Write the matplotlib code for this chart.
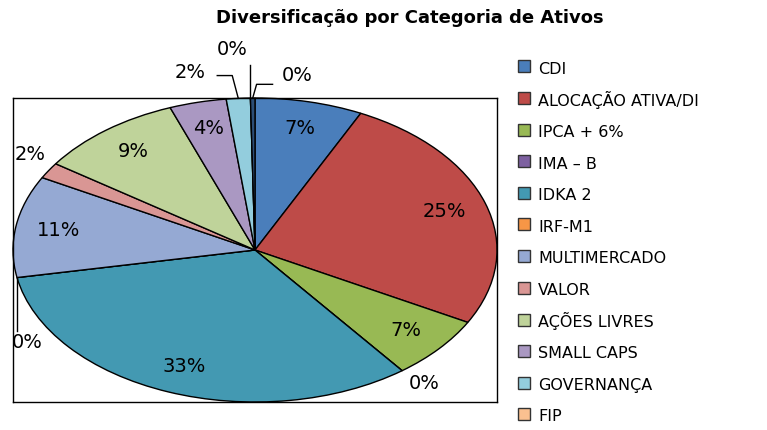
import numpy as np
import matplotlib.pyplot as plt
from matplotlib.lines import Line2D

# dados (percentual da carteira)
categorias = ['CDI', 'ALOCAÇÃO ATIVA/DI', 'IPCA + 6%', 'IMA – B', 'IDKA 2', 'IRF-M1',
              'MULTIMERCADO', 'VALOR', 'AÇÕES LIVRES', 'SMALL CAPS', 'GOVERNANÇA', 'FIP', '']
percentuais = [7.2, 25.7, 6.7, 0.0, 32.5, 0.0, 10.8, 1.7, 9.7, 3.8, 1.6, 0.0, 0.3]
rotulos = ['7%', '25%', '7%', '0%', '33%', '0%', '11%', '2%', '9%', '4%', '2%', '0%', '0%']

cores = ['#4A7EBB', '#BE4B48', '#98B954', '#7D60A0', '#4399B2', '#F79646',
         '#95A9D3', '#D99694', '#BFD39A', '#AA98C2', '#93CDDD', '#FAC090', '#2C4D75']

# posicao dos rotulos: raio para os internos, deslocamentos para os externos
raio_rotulo = 0.82
externos = {
    3: dict(txt=(0.70, -0.88)),
    5: dict(txt=(-0.94, -0.61), linha=[(0.0, 0.0), (0.0, -0.35)]),
    7: dict(txt=(-0.93, 0.63)),
    10: dict(txt=(-0.27, 1.17), linha=[(0.0, 0.0), (-0.025, 0.15), (-0.087, 0.15)]),
    11: dict(txt=(-0.095, 1.32), linha=[(0.0, 0.0), (0.0, 0.22)]),
    12: dict(txt=(0.175, 1.15), linha=[(0.0, 0.0), (0.016, 0.09), (0.082, 0.09)]),
}

fig = plt.figure(figsize=(7.67, 4.30), dpi=100)
ax = fig.add_axes([13/767, 28/430, 484/767, 304/430])

wedges, _ = ax.pie(percentuais, colors=cores, startangle=90, counterclock=False,
                   wedgeprops=dict(edgecolor='black', linewidth=1.0))
ax.set_aspect('auto')
ax.set_xlim(-1, 1)
ax.set_ylim(-1, 1)
ax.set_frame_on(True)
for s in ax.spines.values():
    s.set_color('black')
    s.set_linewidth(1.0)

for i, w in enumerate(wedges):
    ang = np.deg2rad((w.theta1 + w.theta2) / 2)
    if i in externos:
        ex = externos[i]
        x, y = ex['txt']
        if 'linha' in ex:
            bx, by = np.cos(ang), np.sin(ang)
            pts = np.array([(bx + dx, by + dy) for dx, dy in ex['linha']])
            ax.plot(pts[:, 0], pts[:, 1], color='black', lw=1.0, clip_on=False)
    else:
        x, y = raio_rotulo * np.cos(ang), raio_rotulo * np.sin(ang)
    ax.text(x, y, rotulos[i], ha='center', va='center', fontsize=14, clip_on=False)

fig.text(410/767, 1 - 18/430, 'Diversificação por Categoria de Ativos',
         ha='center', va='center', fontsize=13, fontweight='bold')

# legenda com quadrados de tamanho fixo para espacamento uniforme
marcas = [Line2D([], [], marker='s', linestyle='none', markersize=9,
                 markerfacecolor=w.get_facecolor(), markeredgecolor='#333333',
                 markeredgewidth=1.0) for w in wedges[:12]]
fig.legend(handles=marcas, labels=categorias[:12], loc='upper left',
           bbox_to_anchor=(518/767, 1 - 59/430), frameon=False, fontsize=11.5,
           handlelength=0.8, handleheight=1.4, handletextpad=0.45, labelspacing=0.82,
           borderpad=0, borderaxespad=0)

fig.savefig('out.png', dpi=100)
